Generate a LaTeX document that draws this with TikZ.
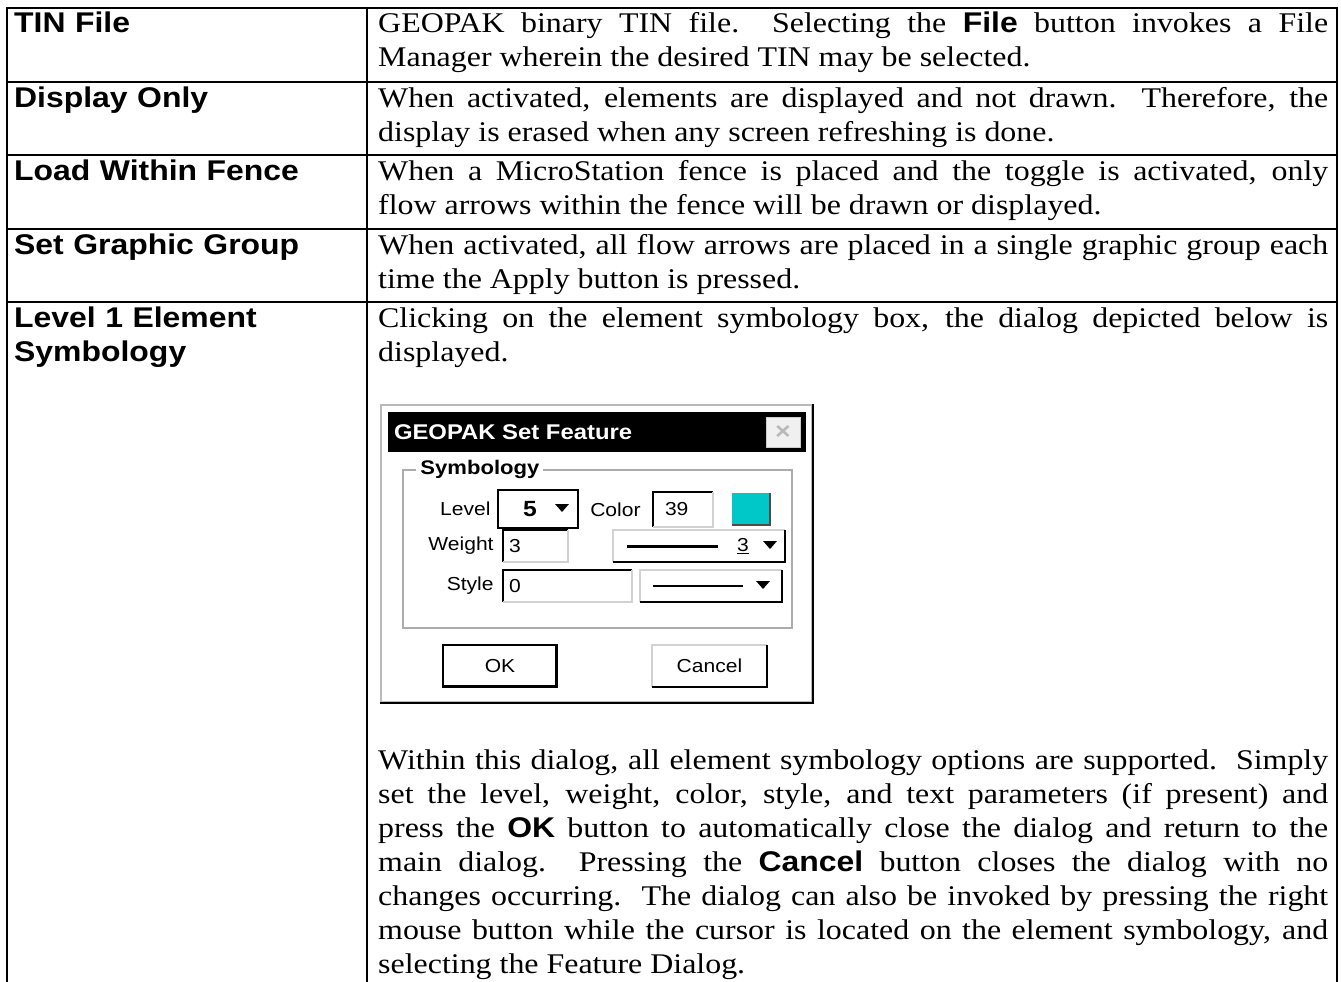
\documentclass[tikz,border=0pt]{standalone}
\usepackage{fontspec}
\setmainfont{Liberation Serif}[FakeStretch=1.12]
\setsansfont{Liberation Sans}[FakeStretch=1.12]
\usepackage{xcolor}
\usetikzlibrary{positioning,calc}

\definecolor{swatchcyan}{RGB}{0,200,200}
\newcommand{\btn}[1]{{\sffamily\bfseries #1}}

\begin{document}
\begin{tikzpicture}[x=1pt, y=-1pt,
rule/.style={line width=2pt},
rowname/.style={anchor=base west, inner sep=0pt, text width=345pt, align=left, font=\sffamily\bfseries\fontsize{28.5}{34}\selectfont},
celltext/.style={anchor=base west, inner sep=0pt, text width=950pt, align=justify, font=\fontsize{28.5}{34}\selectfont},
dlgtext/.style={inner sep=0pt, font=\sffamily\fontsize{18.8}{22}\selectfont},
dlgbold/.style={inner sep=0pt, font=\sffamily\bfseries\fontsize{19.7}{22}\selectfont},
field/.style={fill=white, inner sep=0pt},
lowedge/.style={black, line width=1.5pt},
hiedge/.style={gray!35, line width=1.5pt},
dropmark/.style={fill=black}
]
\useasboundingbox (0,0) rectangle (1341,982);

% Table rules
\draw[rule] (6,8) -- (1338,8);
\foreach \y in {82,155,229,302} \draw[rule] (7,\y) -- (1337,\y);
\foreach \x in {7,367,1337} \draw[rule] (\x,7) -- (\x,984);

% Left column
\node[rowname] (tinname) at (14,33) {TIN File};
\node[rowname] (dispname) at (14,107) {Display Only};
\node[rowname] (fencename) at (14,180) {Load Within Fence};
\node[rowname] (groupname) at (14,254) {Set Graphic Group};
\node[rowname] (symname) at (14,327) {Level 1 Element\\Symbology};

% Right column
\node[celltext] (tintext) at (378,33) {GEOPAK binary TIN file.\ \ Selecting the \btn{File} button invokes a File\linebreak Manager wherein the desired TIN may be selected.};
\node[celltext] (disptext) at (378,107) {When activated, elements are displayed and not drawn.\ \ Therefore, the\linebreak display is erased when any screen refreshing is done.};
\node[celltext] (fencetext) at (378,180) {When a MicroStation fence is placed and the toggle is activated, only\linebreak flow arrows within the fence will be drawn or displayed.};
\node[celltext] (grouptext) at (378,254) {When activated, all flow arrows are placed in a single graphic group each\linebreak time the Apply button is pressed.};
\node[celltext] (symtext) at (378,327) {Clicking on the element symbology box, the dialog depicted below is\linebreak displayed.};

% Dialog frame and title bar
\node[draw=gray!55, line width=1.5pt, fill=white, minimum width=431pt, minimum height=297pt, inner sep=0pt] (dlg) at (596.5,553.5) {};
\draw[line width=2.5pt] (dlg.north east) -- (dlg.south east) -- (dlg.south west);
\node[fill=black, minimum width=418pt, minimum height=40pt, inner sep=0pt] (titlebar) at (597,432) {};
\node[dlgbold, white, font=\sffamily\bfseries\fontsize{21.3}{24}\selectfont, right=6pt of titlebar.west] (dlgtitle) {GEOPAK Set Feature};
\node[fill=gray!12, draw=gray!40, minimum width=34pt, minimum height=30pt, inner sep=0pt, text=gray!55, font=\sffamily\bfseries\fontsize{24}{24}\selectfont] (dlgclose) at (783,432) {×};

% Symbology group
\node[draw=gray!65, line width=1.5pt, minimum width=389pt, minimum height=158pt, inner sep=0pt] (symgroup) at (597.5,549) {};
\node[dlgbold, fill=white, inner xsep=4pt, right=14pt of symgroup.north west] (symlabel) {Symbology};

% Level and colour
\node[field, draw=black, line width=2.5pt, minimum width=80pt, minimum height=38pt] (lvlbox) at (538,509) {};
\node[dlgbold, font=\sffamily\bfseries\fontsize{22}{24}\selectfont] (lvlval) at (530,509) {5};
\fill[dropmark] (555,504) -- (569,504) -- (562,512) -- cycle;
\node[dlgtext, left=6pt of lvlbox] (lvllabel) {Level};
\node[field, minimum width=60pt, minimum height=35pt] (colorbox) at (683,509.5) {};
\draw[lowedge] (colorbox.south west) -- (colorbox.north west) -- (colorbox.north east);
\draw[hiedge] (colorbox.north east) -- (colorbox.south east) -- (colorbox.south west);
\node[dlgtext, right=12pt of colorbox.west] (colorval) {39};
\node[dlgtext, left=12pt of colorbox] (colorlabel) {Color};
\node[fill=swatchcyan, minimum width=38pt, minimum height=32pt, inner sep=0pt] (swatch) at (751,509) {};
\draw[black!70, line width=2pt] (swatch.north east) -- (swatch.south east) -- (swatch.south west);

% Weight
\node[field, minimum width=65pt, minimum height=32pt] (wtbox) at (535.5,546) {};
\draw[lowedge] (wtbox.south west) -- (wtbox.north west) -- (wtbox.north east);
\draw[hiedge] (wtbox.north east) -- (wtbox.south east) -- (wtbox.south west);
\node[dlgtext, right=6pt of wtbox.west] (wtval) {3};
\node[dlgtext, left=9pt of wtbox] (wtlabel) {Weight};
\node[field, minimum width=172pt, minimum height=32pt] (wtcombo) at (699,546) {};
\draw[hiedge] (wtcombo.south west) -- (wtcombo.north west) -- (wtcombo.north east);
\draw[lowedge, line width=2pt] (wtcombo.north east) -- (wtcombo.south east) -- (wtcombo.south west);
\draw[line width=3pt] (627,546) -- (718,546);
\node[dlgtext] (wtnum) at (743,546) {\underline{3}};
\fill[dropmark] (763,541) -- (777,541) -- (770,549) -- cycle;

% Style
\node[field, minimum width=129pt, minimum height=32pt] (stybox) at (567.5,586) {};
\draw[lowedge] (stybox.south west) -- (stybox.north west) -- (stybox.north east);
\draw[hiedge] (stybox.north east) -- (stybox.south east) -- (stybox.south west);
\node[dlgtext, right=6pt of stybox.west] (styval) {0};
\node[dlgtext, left=9pt of stybox] (stylabel) {Style};
\node[field, minimum width=142pt, minimum height=32pt] (stycombo) at (711,586) {};
\draw[hiedge] (stycombo.south west) -- (stycombo.north west) -- (stycombo.north east);
\draw[lowedge, line width=2pt] (stycombo.north east) -- (stycombo.south east) -- (stycombo.south west);
\draw[line width=1.2pt] (653,586) -- (743,586);
\fill[dropmark] (756,581) -- (770,581) -- (763,589) -- cycle;

% Buttons
\node[field, draw=black, line width=1.5pt, minimum width=114pt, minimum height=42pt, dlgtext] (okbtn) at (500,666) {OK};
\draw[line width=2.5pt] ([shift={(2pt,2pt)}]okbtn.south west) -- ([shift={(-2pt,2pt)}]okbtn.south east) -- ([shift={(-2pt,-2pt)}]okbtn.north east);
\node[field, minimum width=115pt, minimum height=42pt, dlgtext] (cancelbtn) at (709.5,666) {Cancel};
\draw[hiedge] (cancelbtn.south west) -- (cancelbtn.north west) -- (cancelbtn.north east);
\draw[lowedge, line width=2pt] (cancelbtn.north east) -- (cancelbtn.south east) -- (cancelbtn.south west);

% Text below the dialog
\node[celltext] (usetext) at (378,769) {Within this dialog, all element symbology options are supported.\ \ Simply\linebreak set the level, weight, color, style, and text parameters (if present) and\linebreak press the \btn{OK} button to automatically close the dialog and return to the\linebreak main dialog.\ \ Pressing the \btn{Cancel} button closes the dialog with no\linebreak changes occurring.\ \ The dialog can also be invoked by pressing the right\linebreak mouse button while the cursor is located on the element symbology, and\linebreak selecting the Feature Dialog.};

\end{tikzpicture}
\end{document}
